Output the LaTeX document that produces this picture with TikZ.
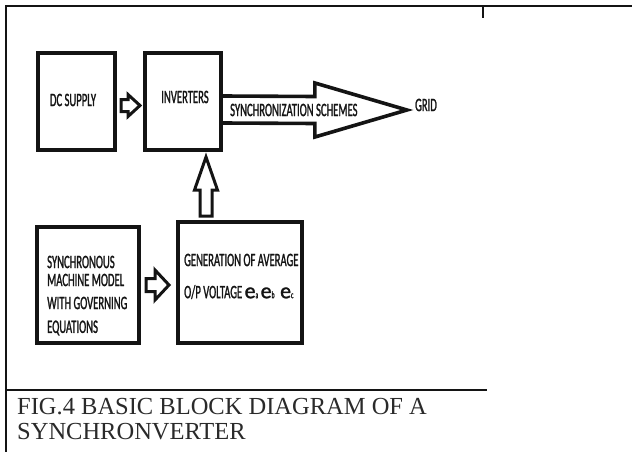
\documentclass[tikz,border=0pt]{standalone}
\usepackage{fontspec}
\setmainfont{Liberation Serif}
\newfontfamily\boxfont[FakeStretch=0.56,FakeBold=1.2]{Carlito}
\newfontfamily\efont[FakeBold=1.5]{Carlito}
\usetikzlibrary{calc}
\definecolor{ink}{HTML}{141414}
\definecolor{captink}{HTML}{2A2A2A}
\tikzset{
  blockbox/.style={draw=ink, line width=4pt, rectangle, inner sep=0pt},
  boxtext/.style={font=\boxfont\fontsize{19}{22}\selectfont, text=ink, inner sep=0pt},
  blockarrow/.style={draw=ink, line width=3pt, line join=miter, fill=white},
  frameline/.style={draw=ink, line width=1.5pt},
  captext/.style={font=\fontsize{24.5}{28}\selectfont, text=captink, anchor=west, inner sep=0pt}
}
\newcommand{\esub}[1]{{\efont\fontsize{22}{22}\selectfont e}{\fontsize{10}{10}\selectfont #1}}
\begin{document}
\begin{tikzpicture}[x=1pt,y=-1pt]
\useasboundingbox (0,0) rectangle (632,452);
% frame
\coordinate (ftl) at (6,6);
\coordinate (ftr) at (632,6);
\coordinate (fbl) at (6,452);
\coordinate (tick) at (483,6);
\coordinate (bl) at (6,390);
\coordinate (br) at (487,390);
\coordinate (brk) at (466,390);
\draw[frameline] (ftr) -- (ftl) -- (fbl);
\draw[frameline] (tick) -- ++(0,12);
\draw[frameline] (bl) -- (br);
\draw[draw=ink, line width=2.8pt] (brk) -- (br);
% boxes
\node[blockbox, minimum width=77pt, minimum height=97pt] (dc) at (76.5,101.5) {};
\node[blockbox, minimum width=76pt, minimum height=97pt] (inv) at (183,101.5) {};
\node[blockbox, minimum width=102pt, minimum height=116pt] (syn) at (88,285) {};
\node[blockbox, minimum width=124pt, minimum height=121pt] (gen) at (240,282.5) {};
% texts
\node[boxtext] (tdc) at (73,100) {DC SUPPLY};
\node[boxtext] (tinv) at (185,97) {INVERTERS};
\node[boxtext, anchor=west] (ts1) at (47,262) {SYNCHRONOUS};
\node[boxtext, anchor=west] (ts2) at (47,280) {MACHINE MODEL};
\node[boxtext, anchor=west] (ts3) at (47,303) {WITH GOVERNING};
\node[boxtext, anchor=west] (ts4) at (47,328) {EQUATIONS};
\node[boxtext, anchor=west] (tg1) at (184,260) {GENERATION OF AVERAGE};
\node[boxtext, anchor=west] (tg2) at (184,292) {O/P VOLTAGE \esub{a} \esub{b}\, \esub{c}};
% grid
\node[boxtext] (grid) at (426,105) {GRID};
% arrow DC -> INV
\coordinate (a1s) at ($(dc.east|-0,105.5)+(4,0)$);
\coordinate (a1e) at ($(inv.west|-0,105.5)+(-3,0)$);
\draw[blockarrow] ($(a1s)+(0,-6)$) -- ($(a1e)+(-12,-6)$) -- ($(a1e)+(-12,-11)$) -- (a1e)
  -- ($(a1e)+(-12,11)$) -- ($(a1e)+(-12,6)$) -- ($(a1s)+(0,6)$) -- cycle;
% big arrow INV -> GRID
\coordinate (a2s) at ($(inv.east|-0,109.5)$);
\coordinate (a2e) at ($(grid.west)+(-8,5)$);
\draw[blockarrow, line width=3.6pt] ($(a2s)+(0,-13.5)$) -- ($(a2e)+(-92,-13.5)$) -- ($(a2e)+(-92,-27)$) -- (a2e)
  -- ($(a2e)+(-92,27)$) -- ($(a2e)+(-92,13.5)$) -- ($(a2s)+(0,13.5)$);
\node[boxtext, anchor=west] (tsch) at (230,110) {SYNCHRONIZATION SCHEMES};
% arrow GEN -> INV (up)
\coordinate (a3s) at ($(gen.north-|206,0)+(0,-4)$);
\coordinate (a3e) at ($(inv.south-|206,0)+(0,5)$);
\draw[blockarrow] ($(a3s)+(-6,0)$) -- ($(a3e)+(-6,33)$) -- ($(a3e)+(-11.5,33)$) -- (a3e)
  -- ($(a3e)+(11.5,33)$) -- ($(a3e)+(6,33)$) -- ($(a3s)+(6,0)$) -- cycle;
% arrow SYN -> GEN
\coordinate (a4s) at ($(syn.east|-0,285)+(5,0)$);
\coordinate (a4e) at ($(gen.west|-0,285)+(-7,0)$);
\draw[blockarrow] ($(a4s)+(0,-6.5)$) -- ($(a4e)+(-14,-6.5)$) -- ($(a4e)+(-14,-15)$) -- (a4e)
  -- ($(a4e)+(-14,15)$) -- ($(a4e)+(-14,6.5)$) -- ($(a4s)+(0,6.5)$) -- cycle;
% caption
\node[captext] (cap1) at (17,407) {FIG.4 BASIC BLOCK DIAGRAM OF A};
\node[captext] (cap2) at (17,432) {SYNCHRONVERTER};
\end{tikzpicture}
\end{document}
